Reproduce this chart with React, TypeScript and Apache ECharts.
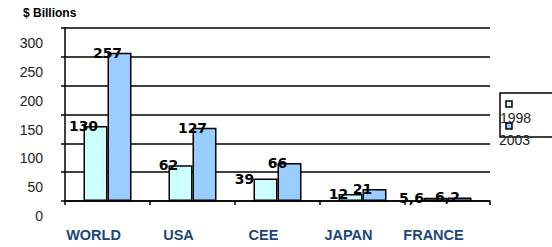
import React, { useEffect, useRef } from "react";
import * as echarts from "echarts";

const categories = ["WORLD", "USA", "CEE", "JAPAN", "FRANCE"];
const seriesNames = ["1998", "2003"];
const values1998 = [130, 62, 39, 12, 5.6];
const values2003 = [257, 127, 66, 21, 6.2];
const yTicks = { min: 0, max: 300, interval: 50 };
const unitTitle = "$ Billions";

const colors = ["#CCFFFF", "#99CCFF"];
// label nudges (pixels) that the original applied to avoid overlaps
const labelNudge1998: Record<number, number[]> = { 2: [-9, 0], 4: [-12, 0] };

export default function App() {
  const ref = useRef<HTMLDivElement>(null);
  useEffect(() => {
    document.body.style.margin = "0";
    const chart = echarts.init(ref.current!, null, { renderer: "svg" });
    const labelCfg = {
      show: true,
      position: [0, 0],
      align: "center",
      verticalAlign: "middle",
      color: "#000",
      fontFamily: "DejaVu Sans",
      fontWeight: "bold",
      fontSize: 14,
      formatter: (p: any) => String(p.value).replace(".", ","),
    };
    const mk = (name: string, data: number[], color: string, nudge: Record<number, number[]>) => ({
      type: "bar",
      name,
      data: data.map((v, i) => (nudge[i] ? { value: v, label: { offset: nudge[i] } } : v)),
      barWidth: 24,
      barGap: "0%",
      itemStyle: { color, borderColor: "#000", borderWidth: 1.5 },
      label: labelCfg,
    });
    chart.setOption({
      animation: false,
      textStyle: { fontFamily: "Liberation Sans, Arial, sans-serif" },
      grid: { left: 65, right: 62, top: 28, bottom: 46, containLabel: false },
      xAxis: {
        type: "category",
        data: categories,
        axisLine: { lineStyle: { color: "#000", width: 1.5 } },
        axisTick: { show: true, length: 4, lineStyle: { color: "#000", width: 1.5 } },
        axisLabel: {
          color: "#1c4778",
          fontWeight: "bold",
          fontSize: 14.5,
          margin: 26,
          padding: [0, 28, 0, 0],
        },
      },
      yAxis: {
        type: "value",
        min: yTicks.min,
        max: yTicks.max,
        interval: yTicks.interval,
        axisLine: { show: true, lineStyle: { color: "#000", width: 1.5 } },
        axisTick: { show: true, length: 4, lineStyle: { color: "#000", width: 1.5 } },
        splitLine: { show: true, lineStyle: { color: "#000", width: 1.5 } },
        axisLabel: {
          color: "#222",
          fontSize: 14,
          margin: 22,
          verticalAlign: "top",
          padding: [8, 0, 0, 0],
          showMinLabel: true,
          showMaxLabel: true,
          hideOverlap: false,
        },
      },
      series: [
        mk(seriesNames[0], values1998, colors[0], labelNudge1998),
        mk(seriesNames[1], values2003, colors[1], {}),
      ],
      graphic: [
        {
          type: "text",
          left: 23,
          top: 7,
          style: { text: unitTitle, font: "bold 12px 'Liberation Sans', Arial", fill: "#000" },
        },
        {
          type: "rect",
          shape: { x: 500, y: 93, width: 80, height: 44 },
          style: { fill: "none", stroke: "#000", lineWidth: 1.5 },
        },
        {
          type: "rect",
          shape: { x: 506, y: 101, width: 6, height: 6 },
          style: { fill: colors[0], stroke: "#000", lineWidth: 1.5 },
        },
        {
          type: "text",
          x: 500,
          y: 118,
          style: { text: seriesNames[0], font: "14px 'Liberation Sans', Arial", fill: "#222", verticalAlign: "middle" },
        },
        {
          type: "rect",
          shape: { x: 506, y: 123, width: 6, height: 6 },
          style: { fill: colors[1], stroke: "#000", lineWidth: 1.5 },
        },
        {
          type: "text",
          x: 499,
          y: 140,
          style: { text: seriesNames[1], font: "14px 'Liberation Sans', Arial", fill: "#222", verticalAlign: "middle" },
        },
      ],
    });
    return () => chart.dispose();
  }, []);
  return <div ref={ref} style={{ width: 552, height: 247 }} />;
}
